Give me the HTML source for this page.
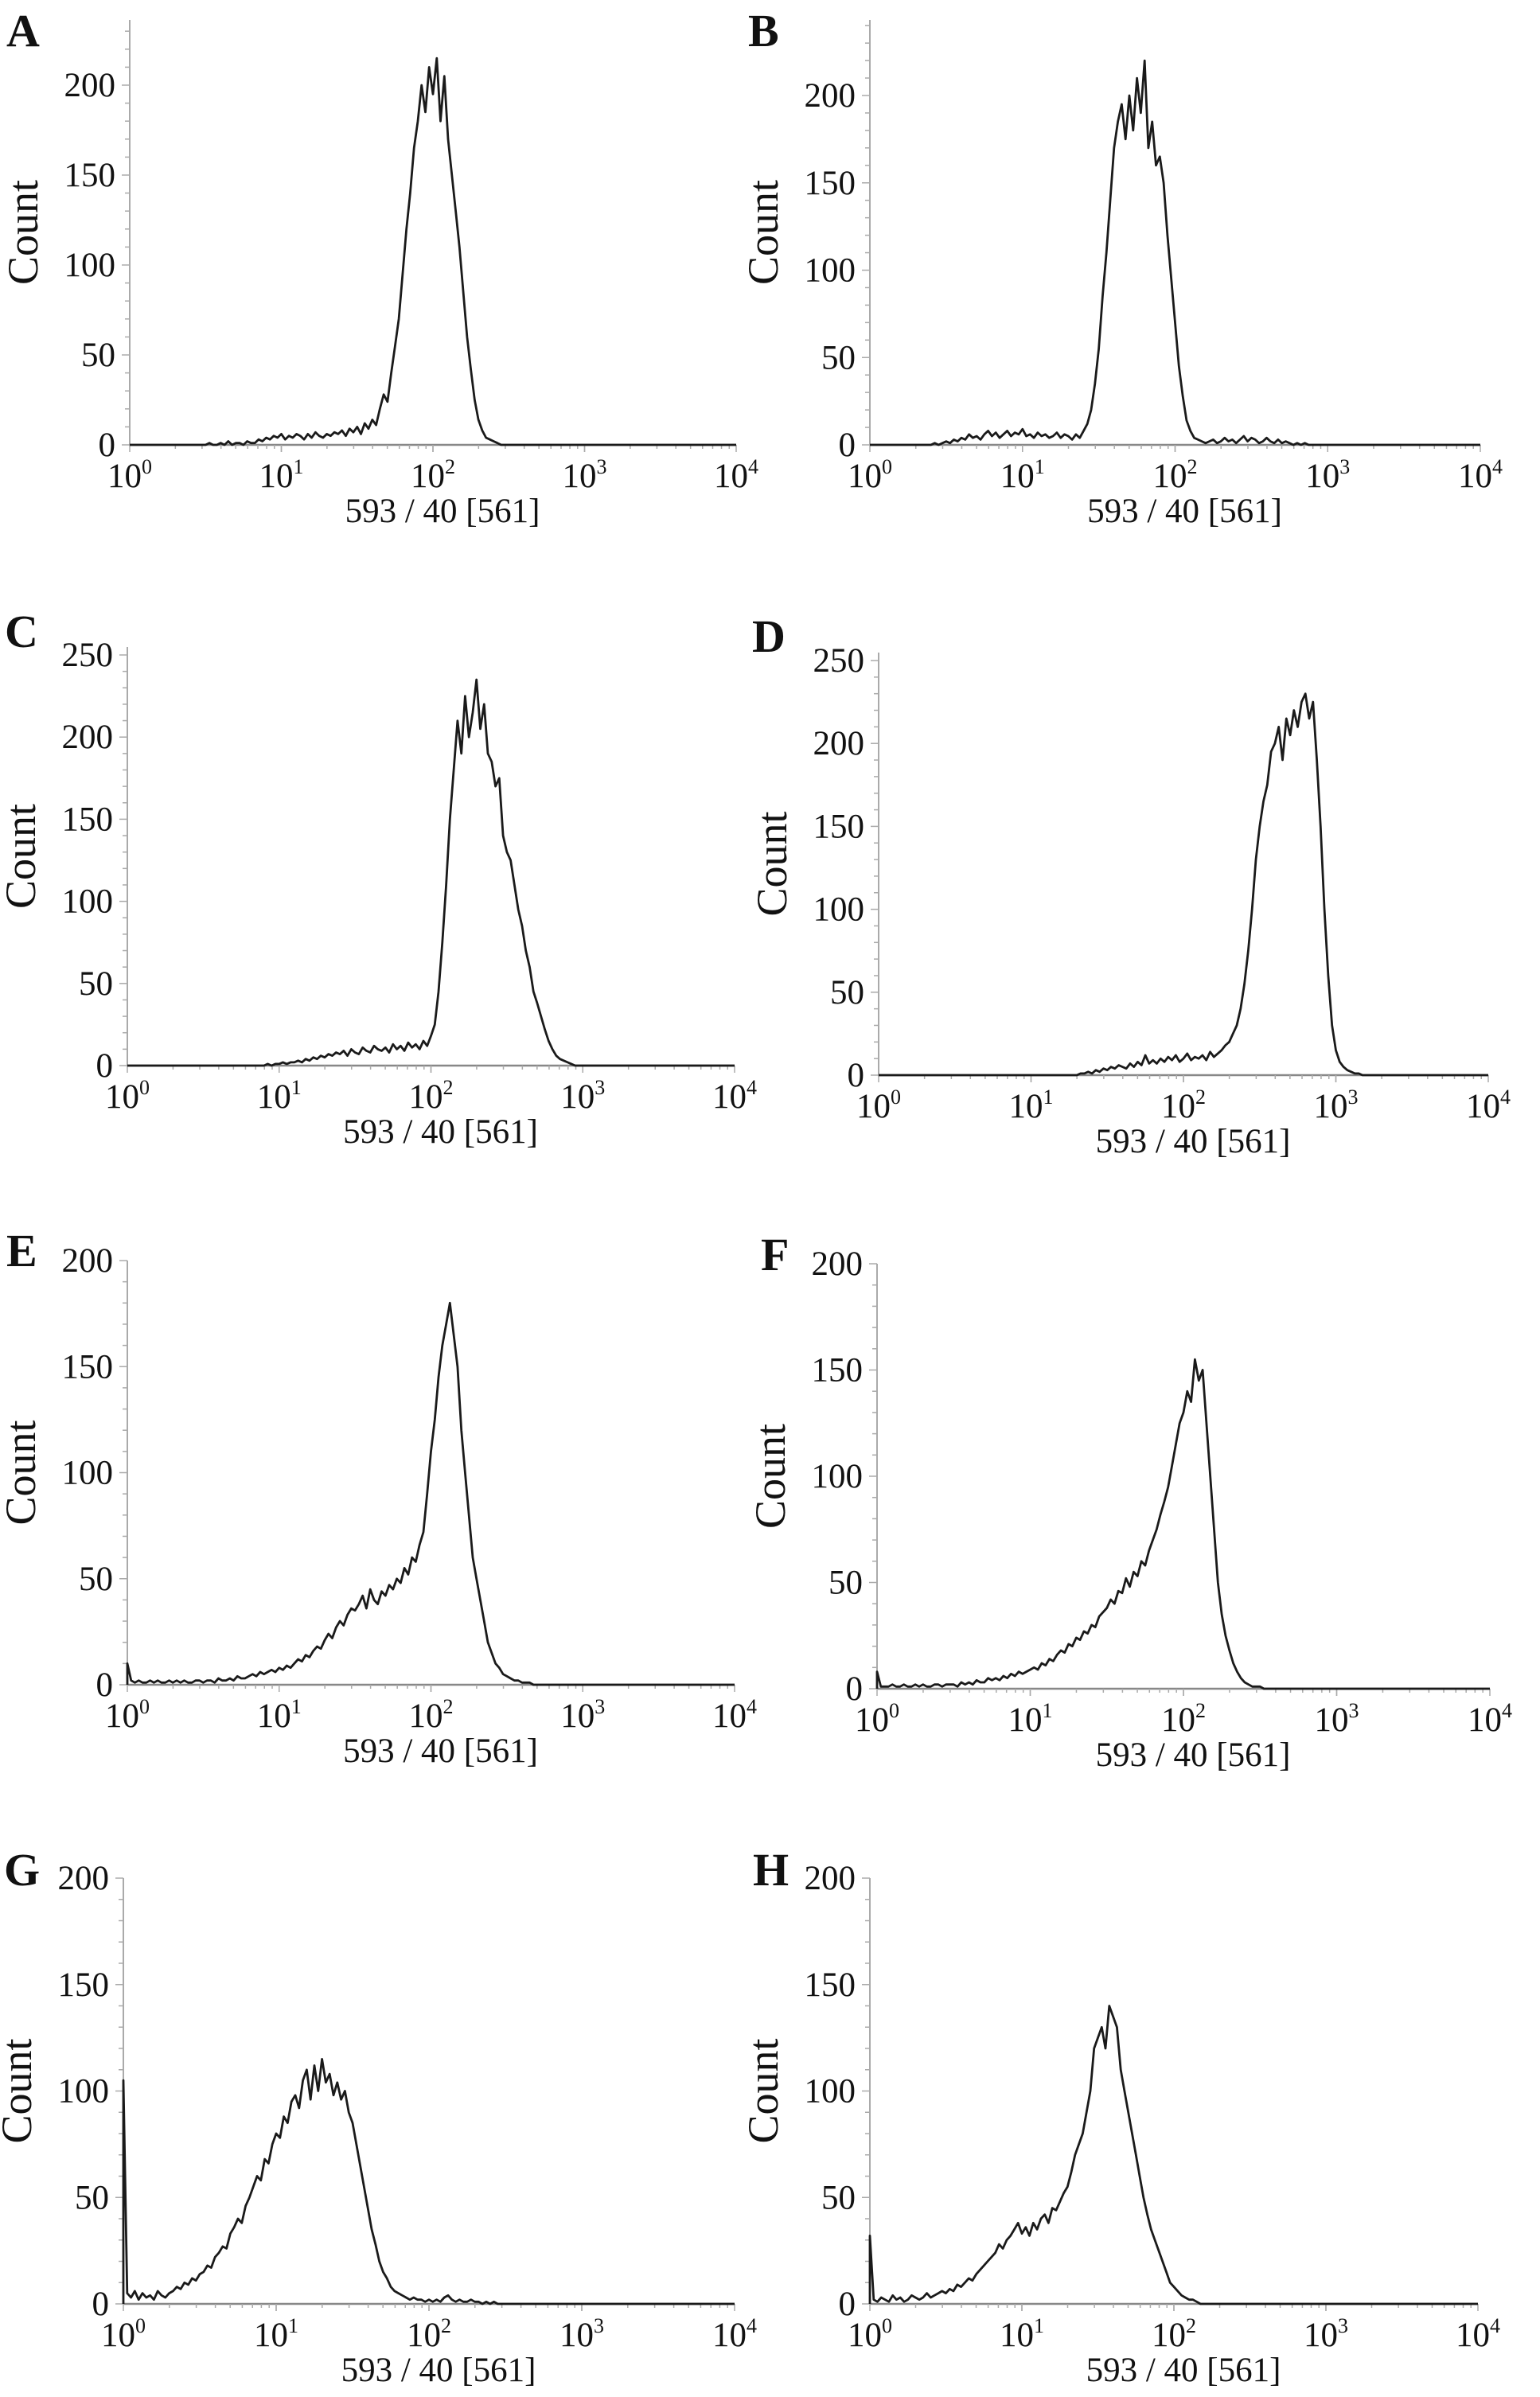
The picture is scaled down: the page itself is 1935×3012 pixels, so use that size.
<!DOCTYPE html>
<html><head><meta charset="utf-8"><style>
html,body{margin:0;padding:0;background:#fff;}
svg{display:block;}
text{font-family:"Liberation Serif",serif;fill:#111;}
</style></head><body>
<svg id="fig" width="1935" height="3012" viewBox="0 0 1935 3012" xmlns="http://www.w3.org/2000/svg"></svg>
<script>
const STEP = 0.025;
const startsA = 0.5, valuesA = [0,1,0,0,1,0,2,0,1,1,0,2,1,1,3,2,4,3,5, 4,6,3,5,4,6,5,3,6,4,7,5,4,6,5,7,6,8,5,9, 7,10,6,12,9,14,11,20,28,24, 40,55,70,95,120,140,165,180,200,185, 210,195,215,180,205,170,150,130,110,85, 60,42,25,14,8,4,3,2,1,0];
const startsB = 0.4, valuesB = [0,1,0,1,2,1,3,2,4,3,6,4,5,3,6,8,5,7,4,6, 8,5,7,6,9,5,6,4,7,5,6,4,5,7,4,6,5,3,6,4, 8,12,20,35,55,85,110,140,170,185, 195,175,200,180,210,190,220,170,185,160, 165,150,120,95,70,45,28,14,8,4, 3,2,1,2,3,1,2,4,2,3,1,3,5,2,4,3,1,2,4,2,1,3,1,2,1,0,1,0,1,0,0,0];
const startsC = 0.9, valuesC = [0,1,0,1,1,2,1,2,2,3,2,4,3,5,4,6,5,7,6,8, 7,9,6,10,8,7,11,9,8,12,10,9,11,8,13,10,12,9,14,11, 13,10,15,12,18,25,45,75,110,150, 180,210,190,225,200,215,235,205,220,190, 185,170,175,140,130,125,110,95,85,70, 60,45,38,30,22,15,10,6,4,3, 2,1,0,0];
const startsD = 1.3, valuesD = [0,1,1,2,1,3,2,4,3,5,4,6,5,4,7,5,8,6,12,7, 9,7,10,8,11,9,12,8,10,13,9,11,10,12,9,14,11,13,15,18, 20,25,30,40,55,75,100,130,150,165, 175,195,200,210,190,215,205,220,210,225, 230,215,225,190,150,100,60,30,15,8, 5,3,2,1,1,0];
const startsE = 0.0, valuesE = [10,2,1,2,1,1,2,1,2,1,1,2,1,2,1,2,1,1,2,2, 1,2,2,1,3,2,2,3,2,4,3,3,4,5,4,6,5,6,7,6, 8,7,9,8,10,12,11,14,13,16,18,17,21,24,22,27,30,28,33,36, 35,38,42,36,45,40,38,44,42,47,45,50,48,55,52,60,58,66,72,90, 110,125,145,160,170,180,165,150,120,100, 80,60,50,40,30,20,15,10,8,5, 4,3,2,2,1,1,1,0,0,0,0,0,0];
const startsF = 0.0, valuesF = [8,1,1,1,2,1,1,2,1,1,2,1,2,1,1,2,2,1,2,2, 2,1,3,2,3,2,4,3,3,5,4,5,4,6,5,7,6,8,7,8, 9,10,9,12,11,14,13,16,18,17,21,20,24,23,27,26,30,29,34,36, 38,42,40,46,45,52,48,55,53,60,58,65,70,75,82,88,95,105,115,125, 130,140,135,155,145,150,125,100,75,50, 35,25,18,12,8,5,3,2,1,1, 1,0,0,0];
const startsG = 0.0, valuesG = [105,5,3,6,2,5,3,4,2,6,4,3,5,6,8,7,10,9,12,11, 14,15,18,17,22,24,27,26,33,36,40,38,46,50,55,60,58,68,66,75, 80,78,88,85,95,98,92,105,110,96,112,100,115,104,108,98,104,96,100,90, 85,75,65,55,45,35,28,20,15,12,8,6,5,4,3,2,3,2,2,1, 2,1,2,1,3,4,2,1,2,1,1,2,1,1,0,1,0,1,0,0];
const startsH = 0.0, valuesH = [32,2,1,3,2,1,4,2,3,1,2,4,3,2,3,5,3,4,5,6, 5,7,6,9,8,10,12,11,14,16,18,20,22,24,28,26,30,32,35,38, 33,36,32,38,35,40,42,38,45,44,48,52,55,62,70,75,80,90,100,120, 125,130,120,140,135,130,110,100,90,80, 70,60,50,42,35,30,25,20,15,10, 8,6,4,3,2,2,1,0,0,0,0,0,0];
const yTicksA = [0,50,100,150,200], yTicksC = [0,50,100,150,200,250], yTicksE = [0,50,100,150,200];
const xTickExps = [0,1,2,3,4];

const panels = [
 {L:"A",s:startsA,v:valuesA,x0:163,x1:925,y0:559,yRef:200,yRefPx:107,top:25,ticks:yTicksA,lx:8,ly:58},
 {L:"B",s:startsB,v:valuesB,x0:1093,x1:1860,y0:559,yRef:200,yRefPx:120,top:25,ticks:yTicksA,lx:940,ly:58},
 {L:"C",s:startsC,v:valuesC,x0:160,x1:923,y0:1339,yRef:250,yRefPx:823,top:813,ticks:yTicksC,lx:6,ly:813},
 {L:"D",s:startsD,v:valuesD,x0:1104,x1:1870,y0:1351,yRef:250,yRefPx:830,top:820,ticks:yTicksC,lx:945,ly:819},
 {L:"E",s:startsE,v:valuesE,x0:160,x1:923,y0:2117,yRef:200,yRefPx:1584,top:1584,ticks:yTicksE,lx:8,ly:1591},
 {L:"F",s:startsF,v:valuesF,x0:1102,x1:1872,y0:2122,yRef:200,yRefPx:1588,top:1588,ticks:yTicksE,lx:956,ly:1596},
 {L:"G",s:startsG,v:valuesG,x0:155,x1:923,y0:2895,yRef:200,yRefPx:2360,top:2360,ticks:yTicksE,lx:5,ly:2369},
 {L:"H",s:startsH,v:valuesH,x0:1093,x1:1857,y0:2895,yRef:200,yRefPx:2360,top:2360,ticks:yTicksE,lx:946,ly:2369}
];
const NS="http://www.w3.org/2000/svg";
const svg=document.getElementById('fig');
function mk(tag,attrs,parent){const e=document.createElementNS(NS,tag);for(const k in attrs)e.setAttribute(k,attrs[k]);parent.appendChild(e);return e;}

panels.forEach(p=>{
  const g=mk('g',{},svg);
  
  
  const xs=d=>p.x0+(p.x1-p.x0)*d/4;
  const ys=v=>p.y0-(p.y0-p.yRefPx)*v/p.yRef;
  const lt=mk('text',{x:p.lx,y:p.ly,'font-size':58,'font-weight':'bold'},g);
  lt.textContent=p.L;
  
  
  const ya=mk('line',{x1:p.x0,y1:p.top,x2:p.x0,y2:p.y0,stroke:'#aaa','stroke-width':2},g);
  
  
  const vmax=p.yRef*(p.y0-p.top)/(p.y0-p.yRefPx);
  for(let v=0;v<=vmax;v+=10){
    const major=v%50===0;
    mk('line',{x1:p.x0-(major?10:6),y1:ys(v),x2:p.x0,y2:ys(v),stroke:'#aaa','stroke-width':1.5},g);
  }
  p.ticks.forEach(t=>{
    const tx=mk('text',{x:p.x0-18,y:ys(t)+14,'font-size':43,'text-anchor':'end'},g);
    tx.textContent=String(t);
    
    
  });
  const xa=mk('line',{x1:p.x0,y1:p.y0,x2:p.x1,y2:p.y0,stroke:'#888','stroke-width':2.5},g);
  
  
  for(let d=0;d<4;d++){for(let m=1;m<=10;m++){
    const xx=xs(d+Math.log10(m));
    mk('line',{x1:xx,y1:p.y0,x2:xx,y2:p.y0+(m===1||m===10?9:5),stroke:'#aaa','stroke-width':1.5},g);
  }}
  xTickExps.forEach(e=>{
    const tx=mk('text',{x:xs(e),y:p.y0+53,'font-size':43,'text-anchor':'middle'},g);
    
    
    const b=mk('tspan',{},tx);b.textContent='10';
    const s=mk('tspan',{'font-size':26,dy:-17},tx);s.textContent=String(e);
  });
  const xl=mk('text',{x:(p.x0+p.x1)/2+12,y:p.y0+97,'font-size':43,'text-anchor':'middle'},g);
  xl.textContent='593 / 40 [561]';
  
  
  const cy=(p.top+p.y0)/2;
  const cx=p.x0-116;
  const yl=mk('text',{x:cx,y:cy,'font-size':54,'text-anchor':'middle',transform:`rotate(-90 ${cx} ${cy})`},g);
  yl.textContent='Count';
  
  
  const pts=p.v.map((v,i)=>xs(p.s+i*STEP).toFixed(1)+','+ys(v).toFixed(1));
  const pre=[xs(0)+','+ys(0), xs(p.s)+','+ys(0)];
  const post=[xs(p.s+(p.v.length-1)*STEP)+','+ys(0), xs(4)+','+ys(0)];
  const pl=mk('polyline',{points:pre.concat(pts,post).join(' '),fill:'none',stroke:'#1a1a1a','stroke-width':2.8,'stroke-linejoin':'round'},g);
  
  
});
</script>
</body></html>
